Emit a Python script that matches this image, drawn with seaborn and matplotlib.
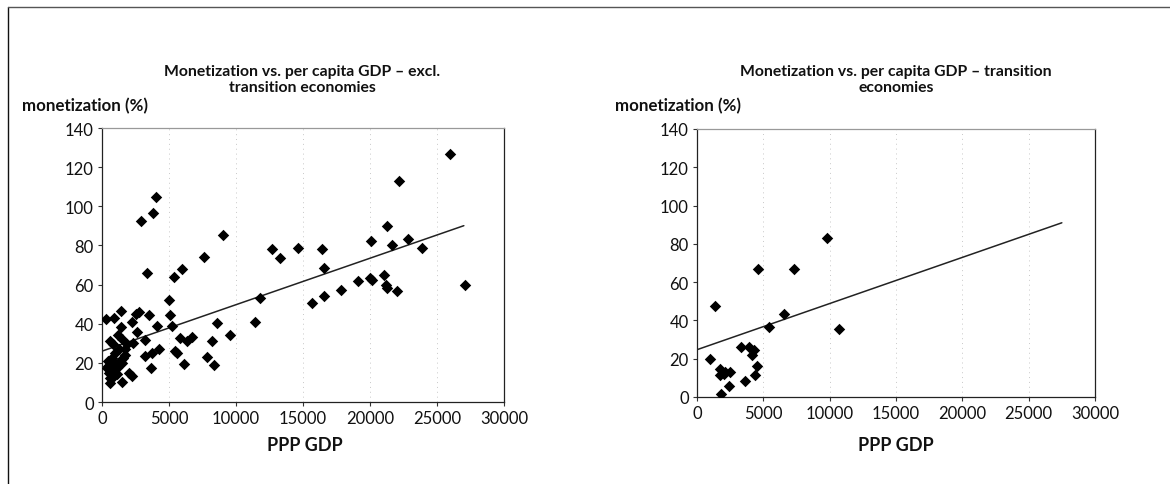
import matplotlib
matplotlib.use("Agg")
import matplotlib.pyplot as plt
import seaborn as sns
import pandas as pd
from matplotlib.lines import Line2D

# ---------------- data ----------------
left_gdp = [4030, 3785, 2910, 9040, 7600, 12670, 13270, 14620, 16380, 16530, 5950, 5350, 3340,
            5000, 11780, 15660, 16530, 17830,
            25950, 22170, 21270, 20050, 21670, 22810, 23910, 19080, 19980, 20150, 21020, 21200,
            21270, 22020, 27050,
            5050, 3540, 2790, 2510, 1420, 870, 320, 2210, 1390, 2610, 4130, 5200, 8590, 11400,
            9560, 8190, 5850, 6350, 6700, 3240, 600, 1220, 2320, 1870, 5480, 5600, 4230, 3760,
            3240, 3660, 6130, 7840, 8320, 2020, 1470, 570,
            840, 1460, 720, 970, 1340, 1590, 720, 1090, 600, 2200, 470, 470, 1000, 1250, 1700,
            1500, 1750, 870, 1120, 370, 500]
left_mon = [105.0, 96.5, 92.5, 85.2, 74.1, 78.4, 73.6, 78.9, 78.4, 68.3, 68.0, 63.9, 66.1,
            52.1, 53.4, 50.7, 54.3, 57.0,
            126.9, 112.9, 90.0, 82.3, 80.4, 83.3, 78.5, 62.0, 63.2, 62.5, 64.9, 59.9,
            58.4, 56.5, 59.9,
            44.4, 44.4, 45.8, 45.2, 46.4, 42.9, 42.3, 40.8, 38.1, 36.0, 38.6, 38.6, 40.5, 41.0,
            34.0, 31.2, 32.6, 31.2, 33.1, 31.9, 31.2, 34.1, 30.4, 29.5, 26.0, 24.9, 27.0, 25.3,
            23.6, 17.4, 19.3, 23.2, 19.0, 15.0, 10.2, 9.9,
            29.5, 32.1, 22.7, 19.3, 21.0, 22.7, 15.9, 14.2, 12.5, 13.5, 18.4, 21.0, 25.0, 27.0, 27.0,
            20.0, 24.0, 13.3, 17.6, 17.6, 15.0]

right_gdp = [9800, 4620, 7330, 1380, 6530, 5450, 10670, 3340, 3890, 4270, 4140, 950, 4520,
             1710, 2080, 2460, 1760, 4390, 3640, 2380, 1810, 2010]
right_mon = [83.3, 67.0, 67.0, 47.3, 43.3, 36.7, 35.3, 26.3, 25.9, 24.7, 21.7, 20.0, 16.3,
             14.4, 13.0, 13.0, 11.3, 11.3, 8.2, 5.9, 1.7, 12.2]

# linear trend lines (end points)
left_trend_gdp = [0, 27000]
left_trend_mon = [26.0, 90.1]
right_trend_gdp = [0, 27500]
right_trend_mon = [24.7, 91.0]

titles = ["Monetization vs. per capita GDP \u2013 excl.\ntransition economies",
          "Monetization vs. per capita GDP \u2013 transition\neconomies"]
y_label = "monetization (%)"
x_label = "PPP GDP"
x_ticks = [0, 5000, 10000, 15000, 20000, 25000, 30000]
y_ticks = [0, 20, 40, 60, 80, 100, 120, 140]

# ---------------- style ----------------
sns.set_style("ticks")
plt.rcParams["font.family"] = ["Lato", "DejaVu Sans"]

fig = plt.figure(figsize=(11.7, 4.85), dpi=100)

ax_pos = [[0.0872, 0.169, 0.3436, 0.565], [0.5957, 0.1794, 0.3402, 0.5526]]
panels = [(left_gdp, left_mon, left_trend_gdp, left_trend_mon),
          (right_gdp, right_mon, right_trend_gdp, right_trend_mon)]
title_x = [302 / 1170, 896 / 1170]
ylab_x = [22 / 1170, 615 / 1170]
xlab_x = [305 / 1170, 896 / 1170]

for i, (gx, my, tx, ty) in enumerate(panels):
    ax = fig.add_axes(ax_pos[i])
    df = pd.DataFrame({"gdp": gx, "mon": my})
    tdf = pd.DataFrame({"gdp": tx, "mon": ty})
    ax.grid(axis="x", color="#c8c8c8", linestyle=(0, (1, 4)), linewidth=0.7)
    sns.lineplot(data=tdf, x="gdp", y="mon", ax=ax, color="#222222", linewidth=1.1, zorder=2)
    sns.scatterplot(data=df, x="gdp", y="mon", ax=ax, marker="D", s=34, color="black",
                    linewidth=0, zorder=3)
    ax.set_xlim(0, 30000)
    ax.set_ylim(0, 140)
    ax.set_xticks(x_ticks)
    ax.set_yticks(y_ticks)
    ax.set_xticklabels([str(t) for t in x_ticks])
    ax.set_yticklabels([str(t) for t in y_ticks])
    ax.set_xlabel("")
    ax.set_ylabel("")
    ax.tick_params(axis="both", labelsize=12, length=3, width=0.8, color="#333333",
                   labelcolor="#111111", pad=3)
    for sp in ax.spines.values():
        sp.set_visible(True)
        sp.set_linewidth(0.9)
        sp.set_color("#222222")
    ax.spines["top"].set_color("#999999")
    fig.text(title_x[i], 1 - 80 / 485, titles[i], ha="center", va="center",
             fontsize=11.3, fontweight="bold", color="#111111", linespacing=1.15)
    fig.text(ylab_x[i], 1 - 106 / 485, y_label, ha="left", va="center",
             fontsize=12.2, fontweight="bold", color="#111111")
    fig.text(xlab_x[i], 1 - 446 / 485, x_label, ha="center", va="center",
             fontsize=13, fontweight="bold", color="#111111")

# outer frame (left and top edges)
fig.add_artist(Line2D([8 / 1170, 8 / 1170], [0, 1 - 8 / 485], transform=fig.transFigure,
                      color="#111111", linewidth=1.0))
fig.add_artist(Line2D([8 / 1170, 1.0], [1 - 8 / 485, 1 - 8 / 485], transform=fig.transFigure,
                      color="#555555", linewidth=1.0))

fig.savefig("out.png", dpi=100)
